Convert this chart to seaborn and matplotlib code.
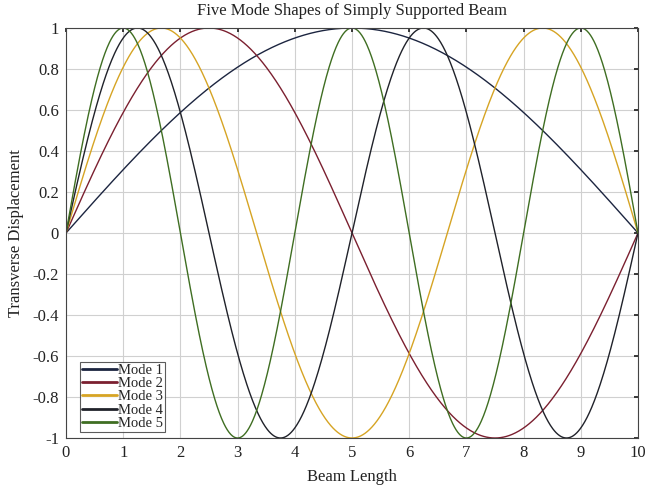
import numpy as np
import pandas as pd
import seaborn as sns
import matplotlib
matplotlib.use("Agg")
import matplotlib.pyplot as plt

beam_length = 10.0
mode_numbers = [1, 2, 3, 4, 5]
mode_labels = ["Mode 1", "Mode 2", "Mode 3", "Mode 4", "Mode 5"]
mode_colors = ["#1c2540", "#7b2030", "#d6a424", "#20222a", "#3f6e22"]
x_ticks = [0, 1, 2, 3, 4, 5, 6, 7, 8, 9, 10]
y_ticks = [-1, -0.8, -0.6, -0.4, -0.2, 0, 0.2, 0.4, 0.6, 0.8, 1]

x = np.linspace(0, beam_length, 1001)
frames = []
for n, lab in zip(mode_numbers, mode_labels):
    frames.append(pd.DataFrame({"x": x, "y": np.sin(n * np.pi * x / beam_length), "mode": lab}))
df = pd.concat(frames, ignore_index=True)

sns.set_theme(style="whitegrid")
plt.rcParams["font.family"] = ["Liberation Serif", "DejaVu Serif"]

fig = plt.figure(figsize=(6.45, 4.9), dpi=100)
ax = fig.add_axes([66/645, 1 - 438/490, (638-66)/645, (438-28)/490])
sns.lineplot(data=df, x="x", y="y", hue="mode", palette=dict(zip(mode_labels, mode_colors)),
             linewidth=1.0, ax=ax, sort=False)

ax.set_xlim(0, 10)
ax.set_ylim(-1, 1)
ax.set_xticks(x_ticks)
ax.set_yticks(y_ticks)
ax.set_yticklabels([("%g" % v) for v in y_ticks])
ax.tick_params(labelsize=12, colors="#222222", length=3, direction="in", pad=5,
               top=True, right=True)
ax.set_xlabel("Beam Length", fontsize=12, color="#222222", labelpad=6)
ax.set_ylabel("Transverse Displacement", fontsize=12, color="#222222", labelpad=6)
ax.set_title("Five Mode Shapes of Simply Supported Beam", fontsize=12, color="#222222", pad=9)
ax.set_facecolor("white")
ax.grid(True, color="#d0d0d0", linewidth=0.8)
for s in ax.spines.values():
    s.set_visible(True)
    s.set_color("#444444")
    s.set_linewidth(0.8)

leg = ax.legend(loc="lower left", fontsize=10.5, frameon=True, fancybox=False,
                borderpad=0.15, labelspacing=0.0, handlelength=2.4, handletextpad=0.05,
                borderaxespad=0, bbox_to_anchor=(0.0245, 0.0146))
leg.get_frame().set_edgecolor("#333333")
leg.get_frame().set_linewidth(0.8)
for line in leg.get_lines():
    line.set_linewidth(2)

fig.savefig("out.png", dpi=100)
